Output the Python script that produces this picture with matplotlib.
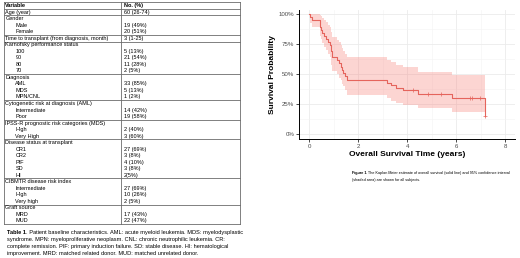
import numpy as np
import matplotlib
matplotlib.use("Agg")
import matplotlib.pyplot as plt
from matplotlib.lines import Line2D

plt.rcParams['font.family'] = ['Liberation Sans', 'DejaVu Sans']

# --- table data ---
row_labels = ["Variable", "Age (year)", "Gender", "Male", "Female",
              "Time to transplant (from diagnosis, month)",
              "Karnofsky performance status", "100", "90", "80", "70",
              "Diagnosis", "AML", "MDS", "MPN/CNL",
              "Cytogenetic risk at diagnosis (AML)", "Intermediate", "Poor",
              "IPSS-R prognostic risk categories (MDS)", "High", "Very High",
              "Disease status at transplant", "CR1", "CR2", "PIF", "SD", "HI",
              "CIBMTR disease risk index", "Intermediate", "High", "Very high",
              "Graft source", "MRD", "MUD"]
row_values = ["No. (%)", "60 (26-74)", "", "19 (49%)", "20 (51%)", "3 (1-25)",
              "", "5 (13%)", "21 (54%)", "11 (28%)", "2 (5%)",
              "", "33 (85%)", "5 (13%)", "1 (2%)",
              "", "14 (42%)", "19 (58%)",
              "", "2 (40%)", "3 (60%)",
              "", "27 (69%)", "3 (8%)", "4 (10%)", "3 (8%)", "2(5%)",
              "", "27 (69%)", "10 (26%)", "2 (5%)",
              "", "17 (43%)", "22 (47%)"]
row_indent = [0, 0, 0, 1, 1, 0, 0, 1, 1, 1, 1, 0, 1, 1, 1, 0, 1, 1,
              0, 1, 1, 0, 1, 1, 1, 1, 1, 0, 1, 1, 1, 0, 1, 1]
group_ends = [0, 1, 4, 5, 10, 14, 17, 20, 26, 30, 33]

table_caption = [". Patient baseline characteristics. AML: acute myeloid leukemia. MDS: myelodysplastic",
                 "syndrome. MPN: myeloproliferative neoplasm. CNL: chronic neutrophilic leukemia. CR:",
                 "complete remission. PIF: primary induction failure. SD: stable disease. HI: hematological",
                 "improvement. MRD: matched related donor. MUD: matched unrelated donor."]
figure_caption = [". The Kaplan Meier estimate of overall survival (solid line) and 95% confidence interval",
                  "(shaded area) are shown for all subjects."]

# --- survival data (years, probability) ---
times = [0, 0.03, 0.10, 0.46, 0.50, 0.54, 0.62, 0.68, 0.78, 0.84, 0.88, 0.91,
         0.93, 0.95, 1.15, 1.22, 1.30, 1.36, 1.40, 1.46, 1.53, 3.16, 3.36,
         3.54, 3.84, 4.45, 5.81, 7.17]
surv = [1.0, 0.974, 0.949, 0.897, 0.872, 0.846, 0.821, 0.795, 0.769, 0.744,
        0.718, 0.692, 0.667, 0.641, 0.615, 0.590, 0.564, 0.538, 0.513, 0.487,
        0.450, 0.430, 0.410, 0.385, 0.365, 0.336, 0.300, 0.150]
lower = [1.0, 0.93, 0.89, 0.82, 0.79, 0.76, 0.73, 0.70, 0.67, 0.64, 0.61,
         0.58, 0.56, 0.53, 0.50, 0.47, 0.45, 0.42, 0.40, 0.37, 0.33, 0.30,
         0.28, 0.26, 0.24, 0.215, 0.185]
upper = [1.0, 1.0, 1.0, 0.998, 0.983, 0.967, 0.951, 0.932, 0.913, 0.894,
         0.874, 0.853, 0.832, 0.811, 0.788, 0.766, 0.743, 0.720, 0.697, 0.672,
         0.645, 0.62, 0.60, 0.58, 0.56, 0.52, 0.49]
censor_times = [4.25, 4.86, 5.40, 6.56, 6.63, 6.97, 7.17]

W, H = 520, 258
fig = plt.figure(figsize=(W / 100, H / 100), dpi=100)
renderer = fig.canvas.get_renderer()


def fx(x):
    return x / W


def fy(y):
    return 1 - y / H


def fit_size(head, rest, width, fs=3.0):
    # font size so that bold head + rest spans about `width` pixels
    for _ in range(3):
        a = fig.text(0, 0, head, fontsize=fs, weight='bold')
        b = fig.text(0, 0, rest, fontsize=fs)
        w = a.get_window_extent(renderer).width + b.get_window_extent(renderer).width
        a.remove()
        b.remove()
        fs = fs * width / w
    return fs


def bold_lead(x, y, head, rest, fs):
    t = fig.text(fx(x), fy(y), head, fontsize=fs, weight='bold', va='center')
    w = t.get_window_extent(renderer).width
    fig.text(fx(x + w), fy(y), rest, fontsize=fs, va='center')


# table
pitch = 6.52
y0 = 5.7
tfs = 4.0
line_c = '#6b6b6b'
for i, (lab, val, ind) in enumerate(zip(row_labels, row_values, row_indent)):
    yy = y0 + i * pitch
    wt = 'bold' if i == 0 else 'normal'
    fig.text(fx(5.3 + 10 * ind), fy(yy), lab, fontsize=tfs, va='center', ha='left', weight=wt)
    if val:
        fig.text(fx(123.5), fy(yy), val, fontsize=tfs, va='center', ha='left', weight=wt)

top = 2.0
bottom = y0 + group_ends[-1] * pitch + pitch / 2
for y in [top] + [y0 + g * pitch + pitch / 2 for g in group_ends]:
    fig.add_artist(Line2D([fx(3.5), fx(240)], [fy(y), fy(y)], color=line_c, lw=0.6))
for x in [3.5, 121, 240]:
    fig.add_artist(Line2D([fx(x), fx(x)], [fy(top), fy(bottom)], color=line_c, lw=0.6))

# table caption
cfs = fit_size("Table 1", table_caption[0], 235)
bold_lead(7, 232.3, "Table 1", table_caption[0], cfs)
for k, ln in enumerate(table_caption[1:]):
    fig.text(fx(7), fy(239.6 + k * 7.2), ln, fontsize=cfs, va='center')

# KM plot
ax = fig.add_axes([fx(299.3), fy(139), fx(515) - fx(299.3), fy(9.5) - fy(139)])
red = '#E5645C'
band_t = times[:-1] + [times[-1]]
band_lo = lower + [lower[-1]]
band_hi = upper + [upper[-1]]
ax.fill_between(band_t, band_lo, band_hi, step='post', color='#F8766D', alpha=0.3, lw=0)
ax.step(times, surv, where='post', color=red, lw=0.8)
cidx = np.searchsorted(times, censor_times, side='right') - 1
ax.plot(censor_times, np.array(surv)[cidx], '+', color=red, ms=2.5, mew=0.5)

ax.set_xlim(-0.4, 8.4)
ax.set_ylim(-0.04, 1.04)
ax.set_xticks([0, 2, 4, 6, 8])
ax.set_xticks([1, 3, 5, 7], minor=True)
ax.set_yticks([0, 0.25, 0.5, 0.75, 1.0])
ax.set_yticklabels(['0%', '25%', '50%', '75%', '100%'])
ax.set_yticks([0.125, 0.375, 0.625, 0.875], minor=True)
ax.grid(which='major', color='#EBEBEB', lw=0.6)
ax.grid(which='minor', color='#F3F3F3', lw=0.4)
ax.set_axisbelow(True)
for s in ['top', 'right']:
    ax.spines[s].set_visible(False)
for s in ['left', 'bottom']:
    ax.spines[s].set_linewidth(0.7)
ax.tick_params(which='major', labelsize=4.4, length=2, width=0.5, pad=1.5, labelcolor='#4D4D4D')
ax.tick_params(which='minor', length=0)
ax.set_xlabel('Overall Survival Time (years)', fontsize=6, weight='bold', labelpad=1.5)
ax.set_ylabel('Survival Probability', fontsize=6, weight='bold', labelpad=2)

# figure caption
ffs = fit_size("Figure 1", figure_caption[0], 155)
bold_lead(352, 173.3, "Figure 1", figure_caption[0], ffs)
fig.text(fx(352), fy(180.3), figure_caption[1], fontsize=ffs, va='center')

fig.savefig('out.png', dpi=100)
